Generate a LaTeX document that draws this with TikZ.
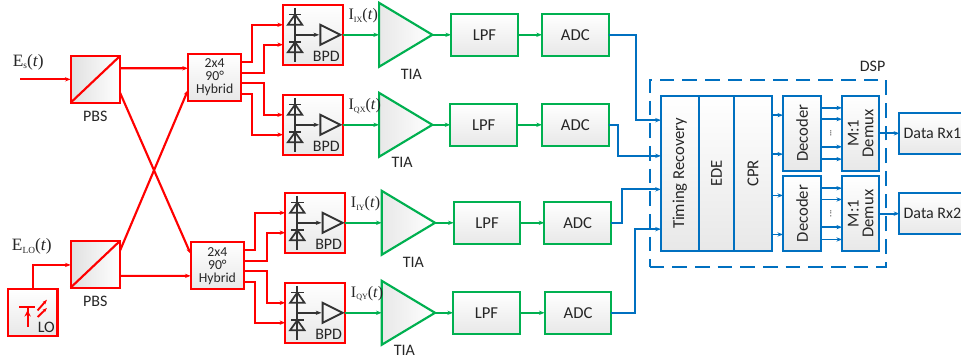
\documentclass[tikz,border=0pt]{standalone}
\usepackage{fontspec}
\setmainfont{Carlito}
\newfontfamily\seriffont{Liberation Serif}
\usetikzlibrary{shapes.geometric, arrows.meta, positioning, calc, fit}
\definecolor{sigRed}{RGB}{255, 0, 0}
\definecolor{sigGreen}{RGB}{0, 176, 80}
\definecolor{sigBlue}{RGB}{0, 112, 192}
\definecolor{darkSym}{RGB}{51, 51, 51}
\newcommand{\siglabel}[2]{{\seriffont\fontsize{13}{13}\selectfont #1\raisebox{-0.35ex}{\fontsize{7}{7}\selectfont #2}(\textit{t})}}
\newcommand{\curlabel}[2]{{\seriffont\fontsize{12}{13}\selectfont #1\raisebox{-0.35ex}{\fontsize{6}{6}\selectfont #2}(\textit{t})}}

\begin{document}
\begin{tikzpicture}[
  line join=miter,
  box/.style={rectangle, line width=1.6pt, outer sep=0pt, inner sep=0pt, text=black!85, text centered, top color=white, bottom color=black!9, font=\fontsize{12.5}{14}\selectfont},
  redbox/.style={box, draw=sigRed},
  pbsbox/.style={redbox, top color=white, bottom color=white, left color=black!12, right color=white, minimum width=37pt, minimum height=35pt},
  hybrid/.style={redbox, minimum width=40pt, minimum height=35pt, align=center, font=\fontsize{10.3}{9.8}\selectfont},
  bpdbox/.style={redbox, minimum width=45pt, minimum height=45pt},
  filterbox/.style={box, draw=sigGreen, minimum width=50pt, minimum height=31.5pt},
  tia/.style={isosceles triangle, isosceles triangle stretches, draw=sigGreen, line width=1.6pt, outer sep=0pt, inner sep=0pt, minimum width=48pt, minimum height=40pt, left color=black!9, right color=white},
  dspblock/.style={box, draw=sigBlue, minimum height=116.25pt},
  decblock/.style={box, draw=sigBlue, minimum width=28.5pt, minimum height=56.25pt},
  demuxblock/.style={box, draw=sigBlue, minimum width=28pt, minimum height=56.25pt},
  rxblock/.style={box, draw=sigBlue, minimum width=49.5pt, minimum height=30.75pt, font=\fontsize{12}{14}\selectfont},
  dspframe/.style={draw=sigBlue, line width=1.5pt, dash pattern=on 11pt off 6pt, inner ysep=12pt, inner xsep=6.55pt},
  lbl/.style={inner sep=0pt, text=black!85, font=\fontsize{12}{14}\selectfont},
  rline/.style={draw=sigRed, line width=1.6pt, -{Stealth[length=1.5mm]}},
  gline/.style={draw=sigGreen, line width=1.4pt, -{Stealth[length=1.5mm]}},
  bline/.style={draw=sigBlue, line width=1.4pt, -{Stealth[length=1.5mm]}},
  bpdsym/.pic={
    \draw[darkSym, line width=1.3pt] (-13.5,20.25) -- (-13.5,-20.5);
    \draw[darkSym, line width=1.3pt] (-18.2,15.2) -- (-8.8,15.2);
    \draw[darkSym, line width=1.3pt] (-13.5,15.2) -- (-18.9,7.5) -- (-8.1,7.5) -- cycle;
    \draw[darkSym, line width=1.3pt] (-18.2,-5.55) -- (-8.8,-5.55);
    \draw[darkSym, line width=1.3pt] (-13.5,-5.55) -- (-18.9,-13.05) -- (-8.1,-13.05) -- cycle;
    \draw[darkSym, line width=1.3pt, -{Stealth[length=1.5mm]}] (-13.5,0) -- (4.6,0);
    \draw[darkSym, line width=1.4pt] (5.5,7.5) -- (5.5,-7.5) -- (20.5,0) -- cycle;
    \node[lbl] (-lab) at (10,-16) {BPD};
  },
  lasersym/.pic={
    \draw[sigRed, line width=1.6pt] (-10.1,4.35) -- (1.6,4.35);
    \draw[sigRed, line width=1.6pt] (-3.9,4.35) -- (-3.9,-10.9);
    \draw[sigRed, line width=1.3pt, -{Stealth[length=1.7mm, width=1.7mm]}] (-3.9,-3.5) -- (-3.9,1.8);
    \draw[sigRed, line width=1.4pt, -{Stealth[length=1.2mm]}] (3.6,1.6) -- (10.6,9.6);
    \draw[sigRed, line width=1.4pt, -{Stealth[length=1.2mm]}] (3.6,-3.4) -- (10.6,3.4);
  },
  x=1pt, y=1pt
]
  \useasboundingbox (0,0) rectangle (720.75,-270);

  % optical front end
  \node[pbsbox] (pbsa) at (71.5,-59.5) {};
  \node[pbsbox, below=103.7pt of pbsa] (pbsb) {};
  \node[redbox, minimum width=37pt, minimum height=35pt, below=1.2pt of pbsb, xshift=-46.9pt] (lo) {};
  \node[hybrid, right=51pt of pbsa, yshift=1.4pt] (huba) {2x4\\90°\\Hybrid};
  \node[hybrid, right=53pt of pbsb, yshift=-1.1pt] (hubb) {2x4\\90°\\Hybrid};
  \node[bpdbox, right=31.3pt of huba, yshift=32pt] (bpda) {};
  \node[bpdbox, below=22.5pt of bpda] (bpdb) {};
  \node[bpdbox, right=31pt of hubb, yshift=32.2pt] (bpdc) {};
  \node[bpdbox, below=22.5pt of bpdc] (bpdd) {};
  \pic at (bpda) {bpdsym};
  \pic at (bpdb) {bpdsym};
  \pic at (bpdc) {bpdsym};
  \pic at (bpdd) {bpdsym};
  \pic at (lo) {lasersym};

  \node[lbl, below=6pt of pbsa] (pbsalab) {PBS};
  \node[lbl, below=6pt of pbsb] (pbsblab) {PBS};
  \node[lbl] (lolab) at ([shift={(10.1pt,-10.9pt)}]lo.center) {LO};
  \node[lbl, left=20pt of pbsa, yshift=13pt] (eslab) {\siglabel{E}{s}};
  \node[lbl, left=14pt of pbsb, yshift=13.2pt] (elolab) {\siglabel{E}{LO}};
  \coordinate[left=38pt of pbsa] (esin);

  % receiver chains
  \node[tia, right=27pt of bpda] (tiaa) {};
  \node[tia, right=27pt of bpdb] (tiab) {};
  \node[tia, right=27.3pt of bpdc] (tiac) {};
  \node[tia, right=27.3pt of bpdd] (tiad) {};
  \node[filterbox, right=14pt of tiaa.apex] (lpfa) {LPF};
  \node[filterbox, right=13.5pt of tiab.apex] (lpfb) {LPF};
  \node[filterbox, right=14pt of tiac.apex] (lpfc) {LPF};
  \node[filterbox, right=13.5pt of tiad.apex] (lpfd) {LPF};
  \node[filterbox, right=18.2pt of lpfa] (adca) {ADC};
  \node[filterbox, right=18.7pt of lpfb] (adcb) {ADC};
  \node[filterbox, right=18pt of lpfc] (adcc) {ADC};
  \node[filterbox, right=18.7pt of lpfd] (adcd) {ADC};

  \node[lbl] (tiaalab) at ([shift={(24.2pt,-29.4pt)}]tiaa.west) {TIA};
  \node[lbl] (tiablab) at ([shift={(17.3pt,-28.4pt)}]tiab.west) {TIA};
  \node[lbl] (tiaclab) at ([shift={(23.7pt,-29.4pt)}]tiac.west) {TIA};
  \node[lbl] (tiadlab) at ([shift={(17pt,-28.4pt)}]tiad.west) {TIA};
  \node[lbl, right=4pt of bpda.east, yshift=14pt] (ixlab) {\curlabel{I}{IX}};
  \node[lbl, right=4pt of bpdb.east, yshift=14pt] (qxlab) {\curlabel{I}{QX}};
  \node[lbl, right=4pt of bpdc.east, yshift=14pt] (iylab) {\curlabel{I}{IY}};
  \node[lbl, right=4pt of bpdd.east, yshift=14.5pt] (qylab) {\curlabel{I}{QY}};

  % DSP
  \node[dspblock, minimum width=28.3pt, right=39.2pt of adcb, yshift=-36.4pt] (timing) {\rotatebox{90}{Timing Recovery}};
  \node[dspblock, minimum width=26.8pt, right=0pt of timing] (ede) {\rotatebox{90}{EDE}};
  \node[dspblock, minimum width=28pt, right=0pt of ede] (cpr) {\rotatebox{90}{CPR}};
  \node[decblock, below right=0pt and 8.5pt of cpr.north east] (deca) {\rotatebox{90}{Decoder}};
  \node[decblock, below=4pt of deca] (decb) {\rotatebox{90}{Decoder}};
  \node[demuxblock, right=15.75pt of deca] (demuxa) {\rotatebox{90}{\shortstack{M:1\\Demux}}};
  \node[demuxblock, right=15.75pt of decb] (demuxb) {\rotatebox{90}{\shortstack{M:1\\Demux}}};
  \node[rxblock, right=15pt of demuxa] (rxa) {Data Rx1};
  \node[rxblock, right=15pt of demuxb] (rxb) {Data Rx2};
  \node[dspframe, fit=(timing)(demuxb), xshift=-1.9pt] (dsp) {};
  \node[lbl, above=5pt of dsp.north east, xshift=-10.5pt] (dsplab) {DSP};
  \node[lbl, font=\fontsize{7}{7}\selectfont, right=6.6pt of deca.east] (dotsa) {\rotatebox{90}{...}};
  \node[lbl, font=\fontsize{7}{7}\selectfont, right=6.6pt of decb.east] (dotsb) {\rotatebox{90}{...}};

  % red paths
  \path[draw=sigRed, line width=1.6pt] (pbsa.south west) -- (pbsa.north east);
  \path[draw=sigRed, line width=1.6pt] (pbsb.south west) -- (pbsb.north east);
  \path[rline] (esin) -- (pbsa);
  \path[rline] (lo.north) |- ([yshift=-0.5pt]pbsb.west);
  \path[rline] ([yshift=8.3pt]pbsa.east) -- ([yshift=6.9pt]huba.west);
  \path[rline] ([yshift=-10pt]pbsa.east) -- ([yshift=8.85pt]hubb.west);
  \path[rline] ([yshift=10.2pt]pbsb.east) -- ([yshift=-9.4pt]huba.west);
  \path[rline] ([yshift=-8.7pt]pbsb.east) -- ([yshift=-7.6pt]hubb.west);
  \path[rline] ([yshift=11.6pt]huba.east) -- ++(8pt,0) |- ([yshift=7.5pt]bpda.west);
  \path[rline] ([yshift=3.6pt]huba.east) -- ++(17.25pt,0) |- ([yshift=-7.4pt]bpda.west);
  \path[rline] ([yshift=-4.3pt]huba.east) -- ++(17.25pt,0) |- ([yshift=7.5pt]bpdb.west);
  \path[rline] ([yshift=-12.6pt]huba.east) -- ++(8pt,0) |- ([yshift=-7.4pt]bpdb.west);
  \path[rline] ([yshift=11.7pt]hubb.east) -- ++(8pt,0) |- ([yshift=7.5pt]bpdc.west);
  \path[rline] ([yshift=3.8pt]hubb.east) -- ++(17pt,0) |- ([yshift=-7.4pt]bpdc.west);
  \path[rline] ([yshift=-4.1pt]hubb.east) -- ++(17pt,0) |- ([yshift=7.5pt]bpdd.west);
  \path[rline] ([yshift=-12.2pt]hubb.east) -- ++(8pt,0) |- ([yshift=-7.4pt]bpdd.west);

  % green paths
  \path[gline] (bpda) -- (tiaa);
  \path[gline] (bpdb) -- (tiab);
  \path[gline] (bpdc) -- (tiac);
  \path[gline] (bpdd) -- (tiad);
  \path[gline] (tiaa.apex) -- (lpfa);
  \path[gline] (tiab.apex) -- (lpfb);
  \path[gline] (tiac.apex) -- (lpfc);
  \path[gline] (tiad.apex) -- (lpfd);
  \path[gline] (lpfa) -- (adca);
  \path[gline] (lpfb) -- (adcb);
  \path[gline] (lpfc) -- (adcc);
  \path[gline] (lpfd) -- (adcd);

  % blue paths
  \path[bline] (adca.east) -- ++(20.6pt,0) |- ([yshift=39.9pt]timing.west);
  \path[bline] (adcb.east) -- ++(7pt,0) |- ([yshift=13.1pt]timing.west);
  \path[bline] (adcc.east) -- ++(8.2pt,0) |- ([yshift=-12pt]timing.west);
  \path[bline] (adcd.east) -- ++(18pt,0) |- ([yshift=-41.85pt]timing.west);
  \foreach \yoff in {13.65,-15.6} {
    \path[bline] ([yshift=\yoff pt]deca.west -| cpr.east) -- ([yshift=\yoff pt]deca.west);
    \path[bline] ([yshift=\yoff pt]decb.west -| cpr.east) -- ([yshift=\yoff pt]decb.west);
  }
  \foreach \yoff in {19.1,10.65,-10.1,-19.35} {
    \path[bline] ([yshift=\yoff pt]deca.east) -- ([yshift=\yoff pt]demuxa.west);
    \path[bline] ([yshift=\yoff pt]decb.east) -- ([yshift=\yoff pt]demuxb.west);
  }
  \path[bline] (demuxa) -- (rxa);
  \path[bline] (demuxb) -- (rxb);
\end{tikzpicture}
\end{document}
